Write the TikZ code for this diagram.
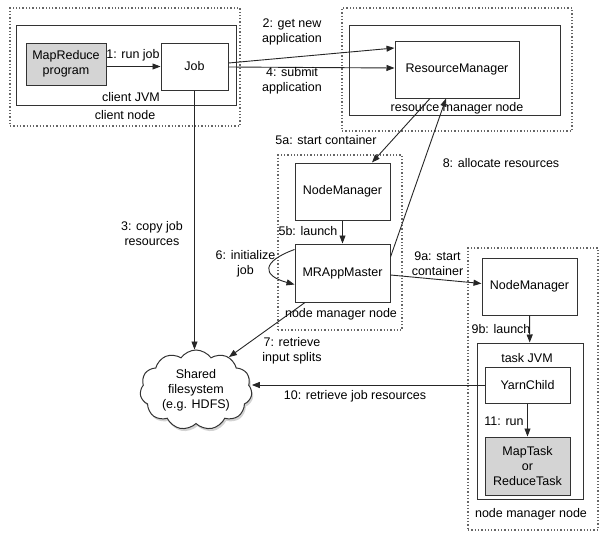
\documentclass[tikz,border=0pt]{standalone}
\usepackage{fontspec}
\setmainfont{Liberation Sans}
\usetikzlibrary{arrows.meta,shapes.symbols,shadows}
\begin{document}
\begin{tikzpicture}
		[x=1pt, y=-1pt,
		font=\fontsize{12.5}{15}\selectfont,
		every node/.style={align=center},
		host/.style={draw=black!60, line width=1.3pt, dotted, inner sep=0pt},
		jvm/.style={draw=black!80, line width=1pt, inner sep=0pt},
		proc/.style={draw=black!80, line width=1pt, fill=white, inner sep=0pt},
		task/.style={proc, fill=black!17},
		lbl/.style={inner sep=1pt},
		arr/.style={draw=black!85, line width=0.9pt, -{Triangle[length=8pt,width=6pt]}}
		]
		\useasboundingbox (0,0) rectangle (600,533);
		\node[host, minimum width=230pt, minimum height=118pt] (clientnode) at (125,67) {};
		\node[jvm, minimum width=220pt, minimum height=80pt] (clientjvm) at (126,65) {};
		\node[task, minimum width=80pt, minimum height=42pt] (mrprog) at (66,64) {MapReduce\\program};
		\node[proc, minimum width=67pt, minimum height=47pt] (job) at (194.5,66.5) {Job};
		\node[lbl] (clientjvmlbl) at (131,97) {client JVM};
		\node[lbl] (clientnodelbl) at (125,115) {client node};
		\node[host, minimum width=230pt, minimum height=123pt] (rmnode) at (457,69.5) {};
		\node[jvm, minimum width=211pt, minimum height=90pt] (rmjvm) at (454.5,70) {};
		\node[proc, minimum width=124pt, minimum height=57pt] (rm) at (457,69.5) {ResourceManager};
		\node[lbl] (rmnodelbl) at (457,108) {resource manager node};
		\node[host, minimum width=124pt, minimum height=175pt] (nmnodea) at (340,242.5) {};
		\node[proc, minimum width=95pt, minimum height=57pt] (nma) at (342.5,191.5) {NodeManager};
		\node[proc, minimum width=95pt, minimum height=58pt] (mram) at (342.5,273) {MRAppMaster};
		\node[lbl] (nmnodealbl) at (341,314) {node manager node};
		\node[host, minimum width=130pt, minimum height=282pt] (nmnodeb) at (533,389) {};
		\node[proc, minimum width=95pt, minimum height=57pt] (nmb) at (529.5,286.5) {NodeManager};
		\node[jvm, minimum width=106pt, minimum height=156pt] (taskjvm) at (530,421) {};
		\node[lbl] (taskjvmlbl) at (527,358) {task JVM};
		\node[proc, minimum width=85pt, minimum height=36pt] (yc) at (527.5,385) {YarnChild};
		\node[task, minimum width=85pt, minimum height=58pt] (maptask) at (527.5,466) {MapTask\\or\\ReduceTask};
		\node[lbl] (nmnodeblbl) at (531,514) {node manager node};
		\node[cloud, cloud puffs=11, cloud puff arc=110, aspect=1.4, draw=black!80, line width=1pt, fill=white,
			minimum width=112pt, minimum height=80pt, inner sep=0pt,
			drop shadow={opacity=0.35, shadow xshift=1.5pt, shadow yshift=-2.5pt}] (fs) at (196,390) {Shared\\filesystem\\(e.g. HDFS)};
		\draw[arr] (mrprog.east |- job.west) -- (job.west);
		\draw[arr] ([yshift=3.5pt]job.east) -- ([yshift=21.5pt]rm.west);
		\draw[arr] ([yshift=-0.5pt]job.east) -- ([yshift=1.5pt]rm.west);
		\draw[arr] (job.south) -- (job.south |- fs.north);
		\draw[arr] ([xshift=-27pt]rm.south) -- ([xshift=29.5pt]nma.north);
		\draw[arr] (nma) -- (mram);
		\draw[arr] ([yshift=-6pt]mram.north west) .. controls +(-33,12) and +(-33,-9) .. ([yshift=18pt]mram.south west);
		\draw[arr] ([xshift=-37.5pt]mram.south) -- (fs.45);
		\draw[arr] ([yshift=16pt]mram.east) -- ([xshift=-11pt]rm.south);
		\draw[arr] ([yshift=-2pt]mram.east) -- ([yshift=3pt]nmb.west);
		\draw[arr] (nmb) -- (taskjvm);
		\draw[arr] (yc.west) -- (yc.west -| fs.east);
		\draw[arr] (yc) -- (maptask);
		\node[lbl] (runlbl) at (133,55) {1: run job};
		\node[lbl] (getlbl) at (292,31.5) {2: get new\\application};
		\node[lbl] (copylbl) at (152,233.5) {3: copy job\\resources};
		\node[lbl] (submitlbl) at (292,81) {4: submit\\application};
		\node[lbl] (startalbl) at (326,140) {5a: start container};
		\node[lbl] (launchalbl) at (308,231.5) {5b: launch};
		\node[lbl] (initlbl) at (245.5,263.5) {6: initialize\\job};
		\node[lbl] (splitlbl) at (292,351) {7: retrieve\\input splits};
		\node[lbl] (alloclbl) at (501,163) {8: allocate resources};
		\node[lbl] (startblbl) at (437.5,263.5) {9a: start\\container};
		\node[lbl] (launchblbl) at (501,329.5) {9b: launch};
		\node[lbl] (resourcelbl) at (355,396) {10: retrieve job resources};
		\node[lbl] (runtasklbl) at (504,421.5) {11: run};
	\end{tikzpicture}
\end{document}
